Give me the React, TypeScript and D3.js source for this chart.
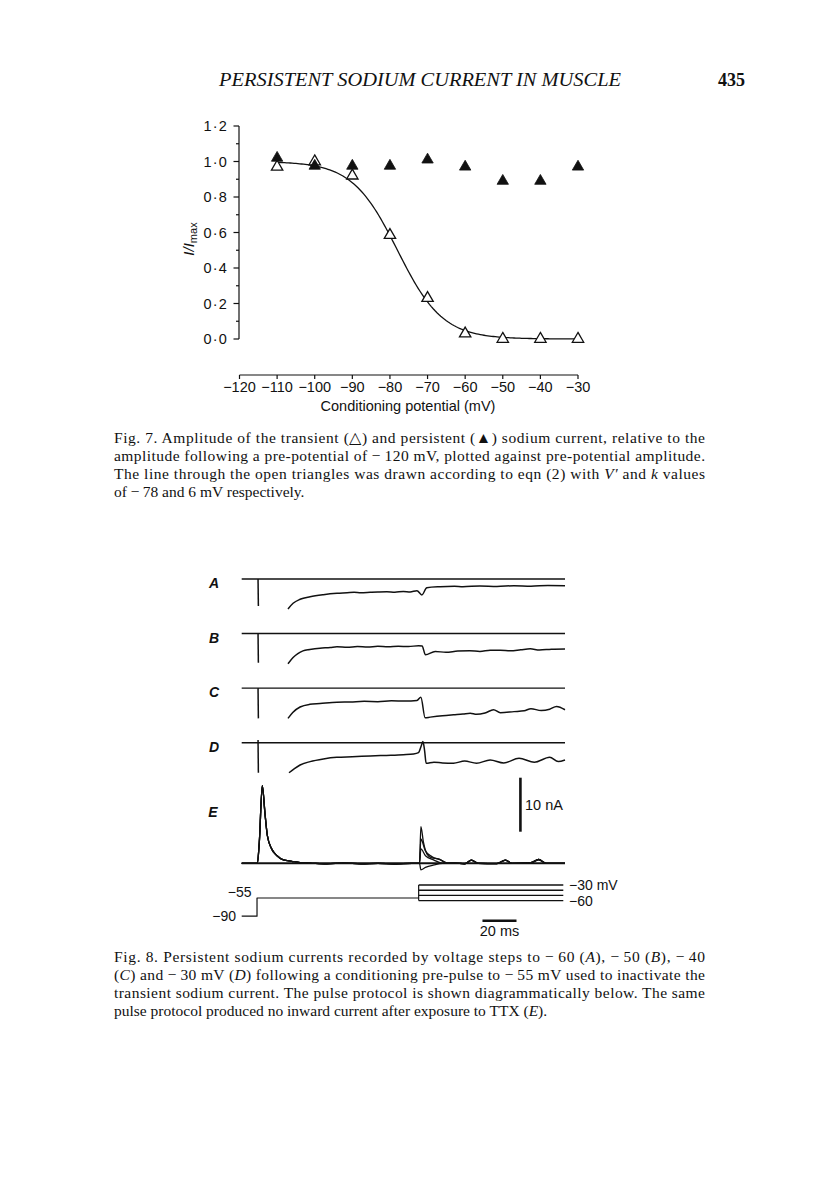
import React from 'react';
import * as d3 from 'd3';

// ---- Fig. 7 data ----
const potentials = [-110, -100, -90, -80, -70, -60, -50, -40, -30];
const transientRel = [0.97, 1.0, 0.92, 0.585, 0.23, 0.03, 0.0, 0.0, 0.0];
const persistentRel = [1.02, 0.975, 0.975, 0.975, 1.01, 0.97, 0.89, 0.89, 0.97];
const V_HALF = -78; // eqn (2) V'
const K_SLOPE = 6; // eqn (2) k
const yTicks = [0, 0.2, 0.4, 0.6, 0.8, 1.0, 1.2];
const xTicks = [-120, -110, -100, -90, -80, -70, -60, -50, -40, -30];

// ---- Fig. 8 data (time ms, current nA) ----
const rows = ['A', 'B', 'C', 'D'];
const spikeTop = [0, 0, 0, 0.5];
const spikeDepth = [-5.0, -5.4, -5.6, -5.56];
const traceA = [[27.2, -5.56], [30.2, -4.5], [34.3, -3.76], [40.2, -3.28], [48, -2.9], [56, -2.65], [62, -2.55], [66, -2.47], [70, -2.55], [75.5, -2.47], [80, -2.4], [85.3, -2.35], [90, -2.45], [95, -2.3], [99, -2.4], [103, -2.16], [105.9, -2.96], [108.8, -1.6], [116.6, -1.42], [125, -1.35], [130, -1.42], [140, -1.3], [150, -1.38], [160, -1.25], [170, -1.32], [180, -1.2], [190, -1.24]];
const traceB = [[27.2, -5.6], [30.2, -4.44], [33, -3.7], [36, -3.2], [40, -2.95], [46, -2.7], [52, -2.6], [56, -2.46], [62, -2.55], [68, -2.4], [74, -2.5], [80, -2.35], [86, -2.45], [92, -2.35], [98, -2.4], [104, -2.25], [106, -2.3], [108, -3.94], [113.7, -3.33], [120, -3.45], [127, -3.25], [134, -3.2], [140, -3.3], [146, -3.1], [152, -3.08], [158, -3.2], [164, -3.0], [169.6, -2.83], [175, -3.05], [182, -2.9], [190, -2.85]];
const traceC = [[27.2, -5.6], [30, -4.5], [34.3, -3.5], [40, -3.0], [46, -2.85], [56, -2.6], [64, -2.55], [72, -2.45], [80, -2.5], [88, -2.35], [96, -2.4], [103, -2.28], [105.3, -1.67], [107.8, -5.5], [110.8, -5.37], [118, -5.1], [124.5, -4.93], [130, -4.8], [134.3, -4.63], [138, -4.85], [143, -4.6], [148, -4.0], [152, -4.55], [160, -4.35], [166, -4.2], [170, -3.8], [176, -4.15], [181, -3.9], [185, -3.39], [190, -4.0]];
const traceD = [[27.8, -5.56], [31, -4.8], [34.3, -4.13], [40.2, -3.5], [48, -3.0], [55.9, -2.7], [65, -2.6], [75.5, -2.46], [85, -2.35], [95, -2.22], [101, -2.1], [103.9, -1.85], [105.5, -0.6], [106.5, 0.2], [107.5, -1.5], [108.4, -3.8], [113, -3.6], [118, -3.75], [124.5, -3.8], [131, -3.4], [138, -3.8], [146, -3.2], [154, -3.75], [163, -2.88], [172, -3.6], [181, -2.7], [186, -3.5], [190, -3.2]];
const tracesAD = [traceA, traceB, traceC, traceD];

// E: after TTX, four traces
const eBefore = [[0, 0], [9.2, 0], [10.35, 3.9], [12.1, 14.4], [13.7, 9.15], [15.1, 5.1], [17.6, 2.67], [20.6, 1.43], [24.5, 0.63], [29.4, 0.37], [34.3, 0.13], [40, 0.05], [50, -0.1], [60, 0.05], [70, -0.1], [80, 0.0], [90, -0.15], [100, 0.0], [104, 0]];
const eStep30 = [[104.5, 0], [105.3, 6.8], [106.8, 3.9], [108.8, 1.75], [111.7, 1.0], [115.7, 0.8], [118.6, 0.37], [121.6, 0]];
const eStep40 = [[104.5, 0], [105.3, 4.5], [107.9, 2.35], [111.7, 1.24], [117.6, 0.5], [120, 0]];
const eStep50 = [[104.5, 0], [105.3, 2.67], [108, 1.4], [113, 0.6], [118, 0]];
const eStep60 = [[104.5, 0], [105.3, -1.2], [108, -0.75], [113, -0.3], [118, 0]];
const eAfter = [[125, 0.05], [131, -0.1], [135, 0.6], [139, 0], [150, -0.05], [155, 0.6], [159, 0], [170, 0.1], [174.5, 0.7], [179, 0], [190, 0]];
const eSteps = [eStep30, eStep40, eStep50, eStep60];

// pulse protocol (mV, ms)
const holdingV = -90;
const prepulseV = -55;
const testV = [-30, -40, -50, -60];
const stepT = 9;
const testT = 104;
const endT = 189;

const fig7Caption = [
  [{ t: 'Fig. 7. Amplitude of the transient (\u25B3) and persistent (\u25B2) sodium current, relative to the' }],
  [{ t: 'amplitude following a pre-potential of \u2212\u2009120\u00A0mV, plotted against pre-potential amplitude.' }],
  [{ t: 'The line through the open triangles was drawn according to eqn (2) with ' }, { t: 'V\u2032', i: true }, { t: ' and ' }, { t: 'k', i: true }, { t: ' values' }],
  [{ t: 'of \u2212\u200978 and 6\u00A0mV respectively.' }],
];
const fig8Caption = [
  [{ t: 'Fig. 8. Persistent sodium currents recorded by voltage steps to \u2212\u200960 (' }, { t: 'A', i: true }, { t: '), \u2212\u200950 (' }, { t: 'B', i: true }, { t: '), \u2212\u200940' }],
  [{ t: '(' }, { t: 'C', i: true }, { t: ') and \u2212\u200930\u00A0mV (' }, { t: 'D', i: true }, { t: ') following a conditioning pre-pulse to \u2212\u200955\u00A0mV used to inactivate the' }],
  [{ t: 'transient sodium current. The pulse protocol is shown diagrammatically below. The same' }],
  [{ t: 'pulse protocol produced no inward current after exposure to TTX (' }, { t: 'E', i: true }, { t: ').' }],
];

const SANS = '"Liberation Sans", Arial, sans-serif';
const SERIF = '"Liberation Serif", "Times New Roman", serif';

const Caption = ({ lines, y0, x0, width }) => (
  <g fontFamily={SERIF} fontSize={15.5} fill="#111">
    {lines.map((segs, i) => (
      <text
        key={i}
        x={x0}
        y={y0 + i * 17.9}
        textLength={i < lines.length - 1 ? width : undefined}
        lengthAdjust="spacing"
      >
        {segs.map((s, j) => (
          <tspan key={j} fontStyle={s.i ? 'italic' : 'normal'}>{s.t}</tspan>
        ))}
      </text>
    ))}
  </g>
);

export default function App() {
  // Fig. 7
  const x = d3.scaleLinear().domain([-120, -30]).range([239.5, 578]);
  const y = d3.scaleLinear().domain([0, 1.2]).range([339, 126]);
  const fitV = d3.range(-110, -29.9, 0.5);
  const fit = d3
    .line<number>()
    .x((v) => x(v))
    .y((v) => y(1 / (1 + Math.exp((v - V_HALF) / K_SLOPE))));
  const tri = d3.symbol(d3.symbolTriangle, 56)();
  const minorTicks = d3.range(0.1, 1.2, 0.2);

  // Fig. 8
  const t = d3.scaleLinear().domain([0, 190]).range([241.7, 565]);
  const cur = d3.scaleLinear().domain([0, 10]).range([0, -54]);
  const rowY = d3.scalePoint<string>().domain(rows).range([579, 742.7]);
  const eBase = 863.3;
  const line = d3
    .line<number[]>()
    .x((d) => t(d[0]))
    .y((d) => cur(d[1]))
    .curve(d3.curveMonotoneX);
  const vY = d3.scaleLinear().domain([-90, -30]).range([916.2, 885]);

  return (
    <svg
      width={816}
      height={1191}
      style={{ position: 'absolute', left: 0, top: 0, background: '#fff' }}
    >
      <rect width={816} height={1191} fill="#fff" />
      {/* running head */}
      <text x={420} y={86} textAnchor="middle" fontFamily={SERIF} fontStyle="italic" fontSize={19} textLength={402} lengthAdjust="spacingAndGlyphs" fill="#111">
        PERSISTENT SODIUM CURRENT IN MUSCLE
      </text>
      <text x={745} y={86} textAnchor="end" fontFamily={SERIF} fontWeight="bold" fontSize={18} fill="#111">
        435
      </text>

      {/* ---- Fig. 7 ---- */}
      <g stroke="#111" strokeWidth={1.2} fill="none">
        <line x1={x(-120) - 0.5} x2={x(-120) - 0.5} y1={y(1.2)} y2={y(0)} />
        {yTicks.map((v) => (
          <line key={v} x1={x(-120) - 6} x2={x(-120) - 0.5} y1={y(v)} y2={y(v)} />
        ))}
        {minorTicks.map((v) => (
          <line key={'m' + v} x1={x(-120) - 3.5} x2={x(-120) - 0.5} y1={y(v)} y2={y(v)} />
        ))}
        <line x1={x(-120)} x2={x(-30)} y1={375} y2={375} />
        {xTicks.map((v) => (
          <line key={v} x1={x(v)} x2={x(v)} y1={375} y2={379} />
        ))}
        <path d={fit(fitV)} strokeWidth={1.3} />
      </g>
      <g fontFamily={SANS} fontSize={14} fill="#111">
        {yTicks.map((v) => (
          <text key={v} x={228} y={y(v) + 5} textAnchor="end" letterSpacing={1.2} fontSize={14.5}>
            {v.toFixed(1).replace('.', '\u00B7')}
          </text>
        ))}
        {xTicks.map((v) => (
          <text key={v} x={x(v)} y={392} textAnchor="middle" fontSize={14.5}>
            {'\u2212' + Math.abs(v)}
          </text>
        ))}
        <text x={408} y={411} textAnchor="middle" fontSize={14.5}>Conditioning potential (mV)</text>
        <text transform="translate(194,239) rotate(-90)" textAnchor="middle" fontStyle="italic" fontSize={15}>
          I/I<tspan fontStyle="normal" fontSize={11} dy={3}>max</tspan>
        </text>
      </g>
      <g>
        {potentials.map((v, i) => (
          <path key={'o' + v} d={tri} transform={`translate(${x(v)},${y(transientRel[i])})`} fill="#fff" stroke="#111" strokeWidth={1.3} />
        ))}
        {potentials.map((v, i) => (
          <path key={'f' + v} d={tri} transform={`translate(${x(v)},${y(persistentRel[i])})`} fill="#111" stroke="#111" strokeWidth={0.8} />
        ))}
      </g>
      <Caption lines={fig7Caption} x0={114} y0={443} width={591} />

      {/* ---- Fig. 8 ---- */}
      <g fill="none" stroke="#111" strokeWidth={1.5} strokeLinejoin="round">
        {rows.map((r, i) => (
          <g key={r} transform={`translate(0,${rowY(r)})`}>
            <line x1={t(0)} x2={t(190)} y1={0} y2={0} strokeWidth={1.4} />
            <line x1={t(9.6)} x2={t(9.8)} y1={cur(spikeTop[i])} y2={cur(spikeDepth[i])} />
            <path d={line(tracesAD[i])} />
          </g>
        ))}
        <g transform={`translate(0,${eBase})`}>
          <line x1={t(0)} x2={t(190)} y1={0} y2={0} strokeWidth={2} />
          {eSteps.map((s, i) => (
            <path key={i} d={line([...eBefore, ...s, ...eAfter])} strokeWidth={1.3} />
          ))}
        </g>
        {/* pulse protocol */}
        <path
          d={`M${t(0)},${vY(holdingV)}H${t(stepT)}V${vY(prepulseV)}H${t(testT)}`}
          strokeWidth={1.2}
        />
        <line x1={t(testT)} x2={t(testT)} y1={vY(d3.max(testV))} y2={vY(d3.min(testV))} strokeWidth={1.2} />
        {testV.map((v) => (
          <line key={v} x1={t(testT)} x2={t(endT)} y1={vY(v)} y2={vY(v)} strokeWidth={1.4} />
        ))}
        {/* scale bars */}
        <line x1={t(163.8)} x2={t(163.8)} y1={eBase - 85.6} y2={eBase - 31.6} strokeWidth={2.6} />
        <line x1={t(141.5)} x2={t(161.5)} y1={920.7} y2={920.7} strokeWidth={2.6} />
      </g>
      <g fontFamily={SANS} fontSize={14} fill="#111">
        {rows.map((r) => (
          <text key={r} x={214} y={rowY(r) + 9} textAnchor="middle" fontStyle="italic" fontWeight="bold" fontSize={14}>
            {r}
          </text>
        ))}
        <text x={213} y={eBase - 46.5} textAnchor="middle" fontStyle="italic" fontWeight="bold" fontSize={14}>E</text>
        <text x={525} y={810} fontSize={14.5}>10 nA</text>
        <text x={t(151.5)} y={936} textAnchor="middle" fontSize={14.5}>20 ms</text>
        <text x={251.5} y={vY(prepulseV) - 1} textAnchor="end">{'\u221255'}</text>
        <text x={236} y={vY(holdingV) + 5} textAnchor="end">{'\u221290'}</text>
        <text x={569} y={vY(-30) + 5}>{'\u221230 mV'}</text>
        <text x={569} y={vY(-60) + 5}>{'\u221260'}</text>
      </g>
      <Caption lines={fig8Caption} x0={114} y0={962} width={591} />
    </svg>
  );
}
